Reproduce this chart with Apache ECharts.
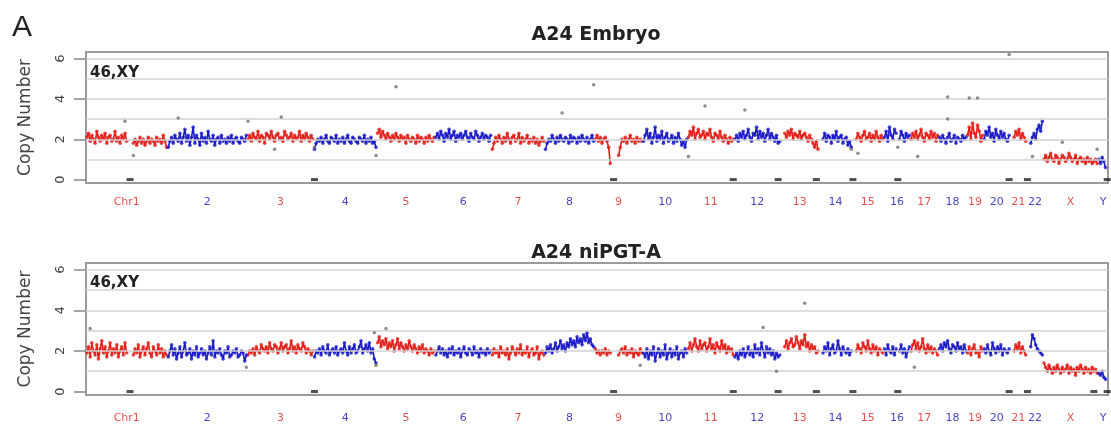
<!DOCTYPE html>
<html><head><meta charset="utf-8">
<script src="https://cdn.jsdelivr.net/npm/echarts@6/dist/echarts.min.js"></script>
<style>html,body{margin:0;padding:0;background:#fff}#c{width:1111px;height:425px}</style>
</head><body><div id="c"></div>
<script>
// ---------------- DATA ----------------
const chrNames = ['Chr1','2','3','4','5','6','7','8','9','10','11','12','13','14','15','16','17','18','19','20','21','22','X','Y'];
const yTicks = [0, 2, 4, 6];
const gridLevels = [1, 2, 3, 4, 5, 6];

// copy number per bin, one array per chromosome (null = no data)
const embryoCN = [
 [2.1,2.3,1.9,2.2,2.0,1.8,2.4,2.1,1.9,2.2, 2.0,2.3,1.8,2.1,2.2,1.9,2.0,2.4,1.9,2.1, 1.8,2.2,2.0,2.3,1.9,null,null,null,1.8,2.0, 1.7,1.9,2.1,1.8,2.0,1.7,1.9,2.1,1.8,2.0, 1.9,1.7,2.1,1.9,2.0,1.8,2.2,1.9,1.6],
 [1.6,1.9,2.1,1.8,2.2,2.0,1.9,2.3,1.8,2.1, 2.5,1.9,2.2,1.7,2.1,2.6,1.8,2.2,2.0,1.7, 2.3,1.9,2.1,1.8,2.4,2.0,1.9,2.2,1.7,2.0, 2.1,1.8,2.2,1.9,2.0,1.8,2.1,1.9,2.2,1.8, 2.0,2.1,1.9,1.8,2.1,2.0,1.9,2.2],
 [2.0,2.2,1.9,2.3,2.1,2.0,2.4,1.9,2.2,2.1, 1.8,2.3,2.2,2.0,2.4,2.1,1.9,2.2,2.3,2.0, 2.1,1.9,2.4,2.2,2.0,2.1,2.3,1.9,2.2,2.0, 2.1,2.4,1.9,2.2,2.0,2.3,2.1,1.9,2.2,2.0],
 [1.5,1.8,2.0,1.9,2.1,1.8,2.0,2.2,1.9,1.8, 2.1,2.0,1.9,2.2,1.8,2.0,1.9,2.1,1.8,2.0, 2.2,1.9,1.8,2.1,2.0,1.9,1.8,2.1,2.0,1.9, 2.2,1.8,2.0,1.9,2.1,1.8,1.9,1.6],
 [2.3,2.5,2.1,2.4,2.2,2.0,2.3,2.1,1.9,2.2, 2.0,2.3,2.1,1.9,2.2,2.0,2.1,1.8,2.2,2.0, 1.9,2.1,2.0,1.8,2.2,1.9,2.1,2.0,1.8,2.1, 1.9,2.2,2.0,1.9,2.1],
 [2.1,2.3,2.0,2.4,2.2,1.9,2.3,2.1,2.5,2.0, 2.2,2.4,1.9,2.2,2.1,2.3,2.0,2.2,2.4,2.1, 1.9,2.3,2.1,2.0,2.4,2.2,1.9,2.1,2.3,2.0, 2.2,2.1,1.9,2.2],
 [1.5,1.8,2.1,1.9,2.2,2.0,1.8,2.1,1.9,2.3, 2.0,1.8,2.1,2.2,1.9,2.0,2.3,1.8,2.1,1.9, 2.0,2.2,1.8,2.0,1.9,2.1,1.8,2.0,1.7,1.9, 2.1,1.9],
 [1.5,1.8,2.0,1.9,2.2,2.0,1.8,2.1,1.9,2.2, 2.0,1.9,2.1,2.0,1.8,2.2,1.9,2.1,2.0,1.8, 2.1,1.9,2.2,2.0,1.9,2.1,1.8,2.0,2.2,1.9],
 [2.0,2.2,1.9,2.1,1.8,2.0,2.1,1.9,1.6,0.8, null,null,null,null,1.2,1.6,2.0,1.9,2.1,1.8, 2.0,2.2,1.9,2.0,1.8,2.1,1.9,2.0,1.9],
 [1.9,2.2,2.5,2.0,2.3,1.8,2.1,2.6,1.9,2.2, 2.0,2.4,1.8,2.1,2.3,1.9,2.0,2.2,1.8,2.1, 1.9,2.3,2.0,1.7,1.9,1.6,2.0],
 [2.1,2.4,2.2,2.6,2.0,2.3,2.5,2.1,2.2,2.4, 2.0,2.3,2.2,2.5,2.1,1.9,2.3,2.2,2.0,2.4, 2.1,1.9,2.2,2.0,1.8,2.1,1.9,2.0],
 [2.0,2.2,1.9,2.3,2.1,2.4,2.0,2.2,2.5,2.1, 1.9,2.3,2.2,2.6,2.0,2.4,2.1,2.3,1.9,2.2, 2.5,2.0,2.3,2.1,1.9,2.2,1.8,1.9],
 [null,null,2.3,2.1,2.4,2.2,2.5,2.0,2.3,2.2, 2.1,2.4,2.0,2.2,2.3,2.1,1.9,2.2,2.0,1.8, 1.6,1.9,1.5],
 [null,null,2.0,2.3,1.9,2.2,2.1,1.8,2.2,2.0, 2.4,1.9,2.1,2.2,1.8,2.0,2.1,1.7,1.9,1.6],
 [null,null,2.0,2.3,2.1,1.9,2.2,2.4,2.0,2.1, 2.3,1.9,2.2,2.0,2.4,2.1,1.9,2.2,2.0],
 [2.1,2.4,1.9,2.6,2.2,2.0,2.5,2.3,null,2.0, 2.4,2.2,1.9,2.3,2.1,2.2],
 [2.0,2.3,2.1,2.4,2.0,2.2,2.5,2.1,1.9,2.3, 2.2,2.0,2.4,2.1,2.3,1.9,2.2],
 [2.1,1.9,2.2,2.0,1.8,2.1,2.3,1.9,2.0,2.2, 1.8,2.1,2.0,1.9,2.2,2.0,2.1],
 [2.2,2.6,2.0,2.8,2.3,2.1,2.7,2.4,1.9,2.2],
 [2.0,2.4,2.2,2.6,2.1,2.3,1.9,2.5,2.2,2.0, 2.4,2.1,2.3,2.0,1.9,2.2],
 [null,null,2.1,2.4,2.2,2.5,2.0,2.3,2.1,1.9],
 [null,null,1.8,2.1,2.3,2.0,2.5,2.7,2.4,2.9],
 [1.0,1.2,0.9,1.1,1.3,1.0,0.9,1.2,1.1,0.8, 1.0,1.2,1.1,0.9,1.0,1.3,1.1,0.9,1.0,1.2, 0.8,1.0,1.1,0.9,1.0,0.8,1.1,0.9,1.0,0.8, 0.9,1.0,0.8],
 [1.0,0.8,1.1,0.9,0.6,null]
];

const niPGTCN = [
 [1.9,2.2,1.7,2.4,2.0,1.8,2.3,1.6,2.1,2.5, 1.9,2.2,1.7,2.0,2.4,1.8,2.1,1.9,2.3,1.7, 2.0,2.2,1.8,2.4,1.9,null,null,null,1.8,2.1, 1.9,2.3,1.7,2.0,2.2,1.8,2.1,2.4,1.9,1.7, 2.2,2.0,1.8,2.3,1.9,2.1,1.7,2.0,1.8],
 [1.7,2.0,2.3,1.8,2.1,1.6,1.9,2.2,1.7,2.0, 2.4,1.8,1.9,2.1,1.6,2.0,1.8,2.2,1.7,1.9, 2.1,1.8,2.0,1.6,1.9,2.2,1.8,2.5,1.7,2.0, 1.9,2.1,1.8,1.6,2.0,1.9,2.2,1.7,1.8,2.0, 1.9,2.1,1.7,1.8,2.0,1.9,1.5,1.8],
 [1.8,2.0,1.9,2.1,1.8,2.2,2.0,1.9,2.3,2.1, 2.0,2.2,1.9,2.4,2.1,2.0,2.3,2.2,1.9,2.1, 2.4,2.0,2.2,2.3,1.9,2.1,2.5,2.0,2.2,1.9, 2.3,2.1,2.0,2.4,2.2,1.9,2.1,2.0,1.8,2.0],
 [1.7,2.0,1.9,2.1,1.8,2.2,2.0,1.9,2.3,1.8, 2.0,2.1,1.9,2.2,1.8,2.0,2.1,1.9,2.4,2.0, 1.8,2.2,1.9,2.1,2.3,1.9,2.0,2.2,2.5,1.9, 2.1,2.3,2.0,2.4,1.9,2.1,1.6,1.4],
 [2.4,2.7,2.2,2.5,2.3,2.6,2.1,2.4,2.2,2.5, 2.0,2.3,2.6,2.1,2.4,2.2,2.0,2.3,2.1,2.5, 2.2,2.0,2.3,2.1,1.9,2.2,2.0,2.3,1.9,2.1, 2.0,1.8,2.1,1.9,2.0],
 [1.8,2.0,2.2,1.9,2.1,1.8,2.0,1.7,2.1,1.9, 2.2,1.8,2.0,1.9,2.1,1.7,2.0,2.2,1.9,1.8, 2.1,2.0,1.8,2.2,1.9,2.0,1.7,2.1,1.9,2.0, 1.8,2.1,1.9,2.0],
 [1.8,2.1,1.9,2.0,1.7,2.2,1.9,2.0,1.8,2.1, 1.6,1.9,2.2,2.0,1.8,2.1,1.9,2.3,1.8,2.0, 1.9,2.2,1.7,2.0,2.1,1.8,1.9,2.2,1.6,1.9, 2.0,1.8],
 [1.9,2.2,2.0,2.3,1.9,2.1,2.4,2.0,2.2,2.5, 2.1,2.3,2.0,2.4,2.2,2.6,2.3,2.5,2.2,2.7, 2.4,2.6,2.3,2.8,2.5,2.9,2.4,2.6,2.3,2.2],
 [2.1,1.9,2.0,1.8,2.0,1.9,2.1,1.8,2.0,1.9, null,null,null,null,1.8,2.0,2.1,1.9,2.2,1.8, 2.0,1.9,2.1,1.7,2.0,1.9,1.8,2.1,1.9],
 [1.9,1.7,2.1,1.6,2.0,1.8,2.2,1.5,1.9,2.1, 1.7,2.0,1.8,2.3,1.6,1.9,2.1,1.7,2.0,1.8, 2.2,1.6,1.9,2.0,1.7,2.1,1.9],
 [2.1,2.4,2.0,2.3,2.6,2.2,2.0,2.5,2.1,2.3, 2.4,2.0,2.2,2.6,2.1,2.3,1.9,2.4,2.2,2.0, 2.5,2.1,2.3,1.9,2.2,2.0,2.1,1.8],
 [1.7,1.9,1.6,2.0,1.8,2.1,1.7,1.9,2.2,1.8, 2.0,1.7,2.3,1.9,2.1,1.8,2.4,2.0,1.7,2.2, 1.9,2.1,1.8,2.0,1.6,1.9,1.7,1.8],
 [null,null,2.2,2.5,2.1,2.4,2.6,2.2,2.3,2.7, 2.4,2.1,2.5,2.3,2.8,2.2,2.4,2.0,2.3,2.1, 2.2,1.9,2.0],
 [null,null,1.9,2.2,2.0,2.4,1.8,2.1,2.3,1.9, 2.0,2.5,2.1,1.8,2.2,2.0,1.9,2.1,1.8,2.0],
 [null,null,2.0,2.3,2.1,1.9,2.4,2.2,2.0,2.5, 2.1,1.9,2.3,2.0,2.2,1.8,2.1,2.0,1.9],
 [2.1,1.8,2.3,2.0,1.9,2.2,1.8,2.1,null,2.0, 2.3,1.9,2.1,1.7,2.0,2.2],
 [2.0,2.3,2.5,2.1,2.4,2.0,2.2,2.6,2.1,1.9, 2.3,2.0,2.2,1.9,2.1,2.0,1.8],
 [2.1,2.3,2.0,2.4,2.2,2.5,2.1,1.9,2.3,2.2, 2.0,2.4,2.1,2.2,1.9,2.3,2.0],
 [1.9,2.2,1.8,2.1,2.3,1.9,2.0,1.7,2.2,2.0],
 [2.1,1.9,2.3,2.0,1.8,2.4,2.1,1.9,2.2,2.0, 2.3,1.8,2.1,2.0,1.9,2.1],
 [null,null,2.0,2.3,2.1,2.4,1.9,2.2,2.0,1.8],
 [null,null,2.2,2.8,2.6,2.3,2.1,2.0,1.9,1.8],
 [1.4,1.2,1.0,1.3,1.1,0.9,1.2,1.0,1.3,1.1, 0.9,1.2,1.0,1.1,1.3,0.9,1.2,1.0,1.1,0.8, 1.2,1.0,1.3,1.1,0.9,1.2,1.0,1.1,0.9,1.2, 1.0,1.1,0.9],
 [0.9,0.8,1.0,0.7,0.6,null]
];

// outlier bins: [chromosome number, bin within chromosome, copy number]
const embryoOutliers = [[1,23,2.9],[1,28,1.2],[2,6,3.05],[3,0,2.9],[3,16,1.5],[3,20,3.1],[4,0,1.6],[4,37,1.2],[5,11,4.6],[8,10,3.3],[8,29,4.7],[11,0,1.15],[11,10,3.65],[12,6,3.45],[14,19,1.5],[15,3,1.3],[16,8,1.6],[17,4,1.15],[18,5,4.1],[18,5,3.0],[19,1,4.05],[19,6,4.05],[20,15,6.2],[22,3,1.15],[23,11,1.85],[23,32,1.5]];
const niPGTOutliers = [[1,2,3.1],[2,47,1.2],[4,36,2.9],[4,37,1.3],[5,5,3.1],[9,27,1.3],[12,17,3.15],[12,25,1.0],[13,14,4.35],[17,2,1.2]];

// bins with zero reads: [chromosome number, bin within chromosome]
const embryoZeroBins = [[1,26],[4,0],[9,11],[11,27],[12,26],[13,21],[15,0],[16,8],[20,15],[22,0],[24,5]];
const niPGTZeroBins = [[1,26],[4,0],[9,11],[11,27],[12,26],[13,21],[15,0],[16,8],[20,15],[22,0],[23,30],[24,5]];

// ---------------- CHART ----------------
const RED = '#e41e18', BLUE = '#1a1ac8';
function layout(cn) { const s = []; let acc = 0; cn.forEach(a => { s.push(acc); acc += a.length; }); return { s, total: acc }; }
const L = layout(embryoCN);
const centers = embryoCN.map((a, i) => L.s[i] + a.length / 2);

function colorPts(cn, parity, withBreaks) {
  const out = [];
  cn.forEach((arr, c) => {
    if (c % 2 !== parity) return;
    arr.forEach((v, i) => out.push([L.s[c] + i + 0.5, v == null ? '-' : v]));
    if (withBreaks) out.push([L.s[c] + arr.length, '-']);
  });
  return out;
}
function outPts(list) { return list.map(o => [L.s[o[0] - 1] + o[1] + 0.5, o[2]]); }
function zeroPts(list) { return list.map(z => [L.s[z[0] - 1] + z[1] + 0.5, 0]); }

const FONT = 'DejaVu Sans';
function panelSeries(g, cn, outl, zeros) {
  const base = { xAxisIndex: g, yAxisIndex: g, animation: false, silent: true };
  return [
    Object.assign({ type: 'line', data: colorPts(cn, 0, true), showSymbol: false, connectNulls: false,
      lineStyle: { width: 1.6, color: RED }, z: 3 }, base),
    Object.assign({ type: 'line', data: colorPts(cn, 1, true), showSymbol: false, connectNulls: false,
      lineStyle: { width: 1.6, color: BLUE }, z: 3 }, base),
    Object.assign({ type: 'scatter', data: colorPts(cn, 0, false), symbolSize: 3.6,
      itemStyle: { color: RED }, z: 4 }, base),
    Object.assign({ type: 'scatter', data: colorPts(cn, 1, false), symbolSize: 3.6,
      itemStyle: { color: BLUE }, z: 4 }, base),
    Object.assign({ type: 'scatter', data: outPts(outl), symbolSize: 3.5,
      itemStyle: { color: '#707070' }, z: 5,
      markLine: { silent: true, symbol: 'none', animation: false, label: { show: false },
        lineStyle: { type: 'solid', color: '#d2d2d2', width: 1.5 },
        data: gridLevels.map(v => ({ yAxis: v })) } }, base),
    Object.assign({ type: 'scatter', data: zeroPts(zeros), symbol: 'rect', symbolSize: [7, 3],
      itemStyle: { color: '#222' }, z: 6 }, base)
  ];
}

function xAxis(g, margin) {
  return {
    gridIndex: g, type: 'value', min: 0, max: L.total,
    axisLine: { show: false }, axisTick: { show: false }, splitLine: { show: false },
    axisLabel: {
      customValues: centers, margin: margin, hideOverlap: false,
      formatter: v => { const i = centers.findIndex(c => Math.abs(c - v) < 1e-6); return i < 0 ? '' : '{' + (i % 2 ? 'b' : 'r') + '|' + chrNames[i] + '}'; },
      rich: { r: { color: '#e25550', fontSize: 11, fontFamily: FONT }, b: { color: '#4848c4', fontSize: 11, fontFamily: FONT } }
    }
  };
}
function yAxis(g) {
  return {
    gridIndex: g, type: 'value', min: -0.17, max: 6.33,
    name: 'Copy Number', nameLocation: 'middle', nameGap: 52,
    nameTextStyle: { fontSize: 17, color: '#444', fontFamily: FONT },
    axisLine: { show: false }, splitLine: { show: false },
    axisTick: { show: true, customValues: yTicks, length: 12, lineStyle: { color: '#888', width: 1.5 } },
    axisLabel: { customValues: yTicks, rotate: 90, fontSize: 13, color: '#444', margin: 19, fontFamily: FONT }
  };
}

const chart = echarts.init(document.getElementById('c'), null, { renderer: 'canvas' });
chart.setOption({
  animation: false,
  backgroundColor: '#fff',
  title: [
    { text: 'A', left: 12, top: 13, padding: 0, textStyle: { fontSize: 30, fontWeight: 'normal', fontFamily: 'Liberation Sans', color: '#222' } },
    { text: 'A24 Embryo', left: 596, top: 26, textAlign: 'center', padding: 0, textStyle: { fontSize: 19, fontWeight: 'bold', fontFamily: FONT, color: '#222' } },
    { text: 'A24 niPGT-A', left: 596, top: 244, textAlign: 'center', padding: 0, textStyle: { fontSize: 19, fontWeight: 'bold', fontFamily: FONT, color: '#222' } },
    { text: '46,XY', left: 90, top: 66, padding: 0, textStyle: { fontSize: 15, fontWeight: 'bold', fontFamily: FONT, color: '#222' } },
    { text: '46,XY', left: 90, top: 276, padding: 0, textStyle: { fontSize: 15, fontWeight: 'bold', fontFamily: FONT, color: '#222' } }
  ],
  grid: [
    { left: 86, top: 52, width: 1022, height: 131, show: true, borderColor: '#9a9a9a', borderWidth: 2, backgroundColor: 'transparent' },
    { left: 86, top: 263, width: 1022, height: 132, show: true, borderColor: '#9a9a9a', borderWidth: 2, backgroundColor: 'transparent' }
  ],
  xAxis: [xAxis(0, 14), xAxis(1, 18)],
  yAxis: [yAxis(0), yAxis(1)],
  series: panelSeries(0, embryoCN, embryoOutliers, embryoZeroBins)
    .concat(panelSeries(1, niPGTCN, niPGTOutliers, niPGTZeroBins))
});
</script>
</body></html>
